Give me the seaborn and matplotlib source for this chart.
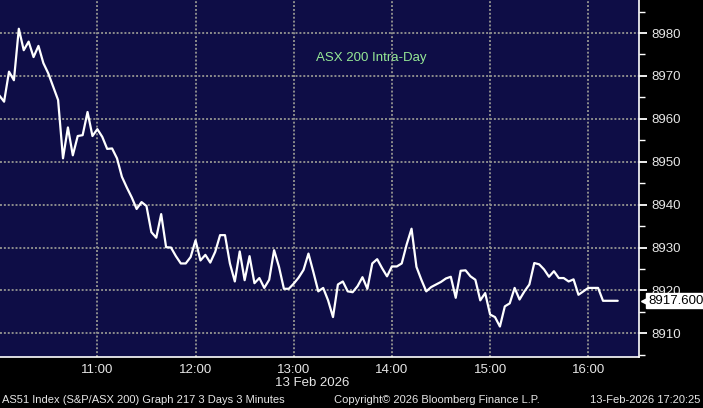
import matplotlib
matplotlib.use("Agg")
import matplotlib.pyplot as plt
import matplotlib.dates as mdates
import pandas as pd
import seaborn as sns
from matplotlib.ticker import MultipleLocator
from matplotlib.transforms import blended_transform_factory, ScaledTranslation

# 3-minute bars of the S&P/ASX 200, 13 Feb 2026
session_start = "2026-02-13 10:00"
bar_freq = "3min"
prices = [
    8965.5, 8964.0, 8971.0, 8969.0, 8981.0, 8976.0, 8978.0, 8974.4, 8977.0, 8973.0,
    8970.6, 8967.5, 8964.4, 8950.8, 8958.0, 8951.5, 8956.0, 8956.2, 8961.6, 8956.0,
    8957.6, 8955.8, 8953.0, 8953.1, 8950.8, 8946.5, 8944.0, 8941.7, 8939.0, 8940.6,
    8939.7, 8933.6, 8932.3, 8937.8, 8930.1, 8930.0, 8928.0, 8926.3, 8926.3, 8927.8,
    8931.7, 8927.0, 8928.3, 8926.5, 8929.0, 8932.9, 8932.9, 8926.3, 8922.1, 8929.1,
    8922.4, 8928.0, 8921.7, 8922.9, 8920.6, 8922.5, 8929.4, 8925.5, 8920.4, 8920.4,
    8921.6, 8923.0, 8924.8, 8928.6, 8924.3, 8919.8, 8920.6, 8917.7, 8913.8, 8921.4,
    8922.1, 8919.8, 8919.6, 8921.0, 8923.1, 8920.4, 8926.3, 8927.3, 8925.2, 8923.3,
    8925.6, 8925.6, 8926.3, 8930.7, 8934.4, 8925.5, 8922.5, 8919.8, 8920.8, 8921.4,
    8922.0, 8922.8, 8923.2, 8918.3, 8924.6, 8924.7, 8923.3, 8922.5, 8917.7, 8919.4,
    8914.4, 8913.8, 8911.6, 8916.3, 8917.0, 8920.6, 8917.9, 8919.8, 8921.4, 8926.4,
    8926.1, 8924.9, 8923.2, 8924.5, 8922.9, 8922.9, 8922.1, 8922.6, 8919.0, 8919.8,
    8920.6, 8920.6, 8920.6, 8917.6, 8917.6, 8917.6, 8917.6,
]

title = "ASX 200 Intra-Day"
date_label = "13 Feb 2026"
footer_left = "AS51 Index (S&P/ASX 200) Graph 217 3 Days 3 Minutes"
footer_mid = "Copyright\u00a9 2026 Bloomberg Finance L.P."
footer_right = "13-Feb-2026 17:20:25"

df = pd.DataFrame({
    "time": pd.date_range(session_start, periods=len(prices), freq=bar_freq),
    "price": prices,
})

sns.set_style("dark")
plt.rcParams["font.family"] = ["Liberation Sans", "DejaVu Sans"]

navy = "#0e0d46"
grid_grey = "#8c8c8c"
text_col = "#e6e6e6"

fig = plt.figure(figsize=(7.03, 4.08), dpi=100, facecolor="black")
ax = fig.add_axes([0, 51 / 408, 639 / 703, 357 / 408])
ax.set_facecolor(navy)

sns.lineplot(data=df, x="time", y="price", ax=ax, color="white", linewidth=1.6, zorder=5)

ax.set_xlim(pd.Timestamp("2026-02-13 10:00:30"), pd.Timestamp("2026-02-13 16:31"))
ax.set_ylim(8904.5, 8987.7)
ax.set_xlabel("")
ax.set_ylabel("")

ax.xaxis.set_major_locator(mdates.HourLocator(byhour=range(11, 17)))
ax.xaxis.set_major_formatter(mdates.DateFormatter("%H:%M"))
ax.xaxis.set_minor_locator(mdates.MinuteLocator(byminute=[30]))
ax.yaxis.tick_right()
ax.yaxis.set_major_locator(MultipleLocator(10))
ax.yaxis.set_minor_locator(MultipleLocator(5))

ax.grid(which="major", color=grid_grey, linestyle=(0, (1, 1)), linewidth=1.4)
ax.grid(which="minor", visible=False)

ax.tick_params(axis="y", which="major", direction="out", length=6, width=1.3,
               color="white", labelcolor=text_col, labelsize=9.5, pad=3)
ax.tick_params(axis="y", which="minor", direction="out", length=4, width=1, color="white")
ax.tick_params(axis="x", which="both", direction="out", length=4, width=1,
               color="white", labelcolor=text_col, labelsize=9.5, pad=1)

for side in ["top", "left"]:
    ax.spines[side].set_visible(False)
for side in ["right", "bottom"]:
    ax.spines[side].set_color("white")
    ax.spines[side].set_linewidth(1.2)

# last value tag on the price axis
last = prices[-1]
tag_tr = blended_transform_factory(ax.transAxes, ax.transData)
ax.plot([1], [last], marker="<", ms=7, color="white", clip_on=False, zorder=9,
        transform=tag_tr + ScaledTranslation(5 / 72, 0, fig.dpi_scale_trans))
ax.annotate(f"{last:.3f}", xy=(1, last), xycoords=tag_tr, xytext=(6.5, 0),
            textcoords="offset points", ha="left", va="center", color="black",
            fontsize=9.5, annotation_clip=False, zorder=10,
            bbox=dict(boxstyle="square,pad=0.12", fc="white", ec="white"))

fig.text(371 / 703, 1 - 58 / 408, title, color="#96e896", fontsize=9.5,
         ha="center", va="center")
fig.text(312 / 703, 1 - 383 / 408, date_label, color=text_col, fontsize=9.5,
         ha="center", va="center")
fig.text(2 / 703, 1 - 400 / 408, footer_left, color=text_col, fontsize=8,
         ha="left", va="center")
fig.text(334 / 703, 1 - 400 / 408, footer_mid, color=text_col, fontsize=8,
         ha="left", va="center")
fig.text(700 / 703, 1 - 400 / 408, footer_right, color=text_col, fontsize=8,
         ha="right", va="center")

fig.savefig("out.png", dpi=100, facecolor="black")
plt.close(fig)
